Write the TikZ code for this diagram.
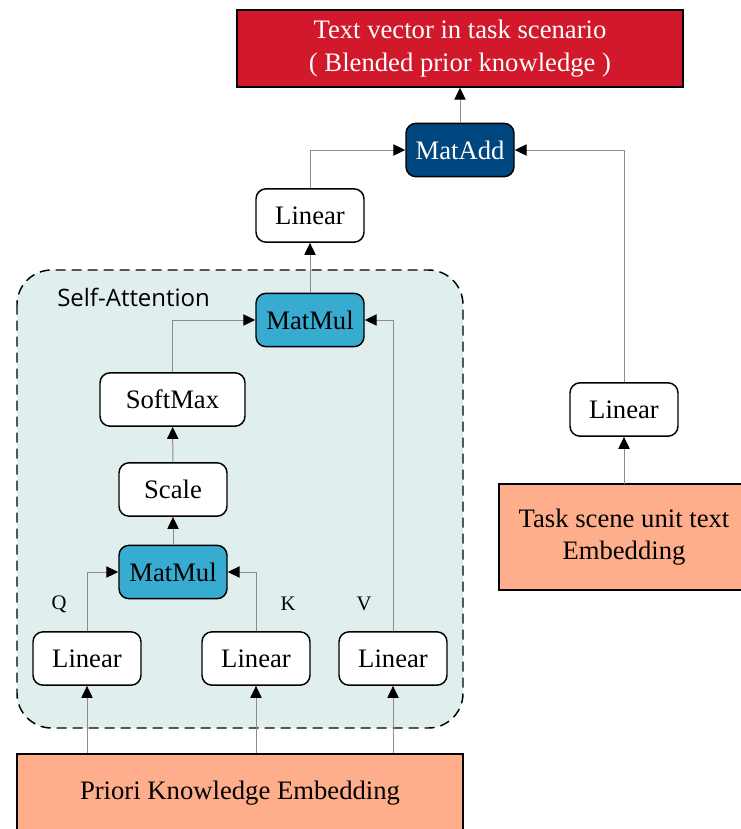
\documentclass[tikz,border=0pt]{standalone}
\usepackage{fontspec}
\setmainfont{Liberation Serif}
\newfontfamily\attnfont{Open Sans}
\usetikzlibrary{arrows.meta}
\definecolor{outred}{HTML}{D2192C}
\definecolor{addblue}{HTML}{00467F}
\definecolor{mulblue}{HTML}{37ABD0}
\definecolor{embsalmon}{HTML}{FFAE8C}
\definecolor{attnbg}{HTML}{E1EEEE}

\begin{document}
\begin{tikzpicture}[x=0.75pt, y=-0.75pt,
		every node/.style={font=\fontsize{20}{24}\selectfont, inner sep=0pt, align=center},
		op/.style={draw=black, line width=1.1pt, rounded corners=7.5pt, fill=white, minimum width=81pt, minimum height=40pt},
		mul/.style={op, fill=mulblue},
		emb/.style={draw=black, line width=1.1pt, fill=embsalmon},
		link/.style={draw=black!45, line width=0.75pt, -{Triangle[color=black, length=9pt, width=8.5pt]}},
		qkv/.style={font=\fontsize{15.5}{18}\selectfont}
	]
	\useasboundingbox (0,0) rectangle (740,829);
	
	% self-attention block
	\draw[line width=1.1pt, dash pattern=on 7.5pt off 4.5pt, rounded corners=26pt, fill=attnbg] (17,270) rectangle (463,728);
	\node[anchor=west, font=\attnfont\fontsize{18}{21}\selectfont] (attnlabel) at (57,297) {Self-Attention};
	
	\node[draw=black, line width=1.1pt, fill=outred, text=white, minimum width=334.5pt, minimum height=57.75pt, font=\fontsize{20}{25}\selectfont] (output) at (460,48.5) {Text vector in task scenario\\( Blended prior knowledge )};
	\node[op, fill=addblue, text=white] (matadd) at (460,150) {MatAdd};
	\node[op] (linout) at (310,215.5) {Linear};
	\node[mul] (matmultop) at (310,320) {MatMul};
	\node[op, minimum width=108.75pt] (softmax) at (172.5,399.5) {SoftMax};
	\node[op] (scale) at (173,489.5) {Scale};
	\node[mul] (matmulqk) at (173,572) {MatMul};
	\node[op] (linq) at (87,658.5) {Linear};
	\node[op] (link) at (256,658.5) {Linear};
	\node[op] (linv) at (393,658.5) {Linear};
	\node[qkv] (qlabel) at (59,604) {Q};
	\node[qkv] (klabel) at (288,604) {K};
	\node[qkv] (vlabel) at (364,604) {V};
	\node[emb, minimum width=334.5pt, minimum height=58.5pt] (priori) at (240,793) {Priori Knowledge Embedding};
	
	\node[op] (lintask) at (624,409.5) {Linear};
	% the embedding box runs off the right edge
	\path[emb] (499,484) rectangle (770,590);
	\node[minimum height=79.5pt] (taskemb) at (624,537) {Task scene unit text\\Embedding};
	
	% connectors
	\draw[link] (matadd) -- (output);
	\draw[link] (linout.north) |- (matadd.west);
	\draw[link] (lintask.north) |- (matadd.east);
	\draw[link] (taskemb) -- (lintask);
	\draw[link] (matmultop) -- (linout);
	\draw[link] (softmax.north) |- (matmultop.west);
	\draw[link] (linv.north) |- (matmultop.east);
	\draw[link] (scale) -- (softmax);
	\draw[link] (matmulqk) -- (scale);
	\draw[link] (linq.north) |- (matmulqk.west);
	\draw[link] (link.north) |- (matmulqk.east);
	\draw[link] (priori.north -| linq) -- (linq);
	\draw[link] (priori.north -| link) -- (link);
	\draw[link] (priori.north -| linv) -- (linv);
\end{tikzpicture}
\end{document}
